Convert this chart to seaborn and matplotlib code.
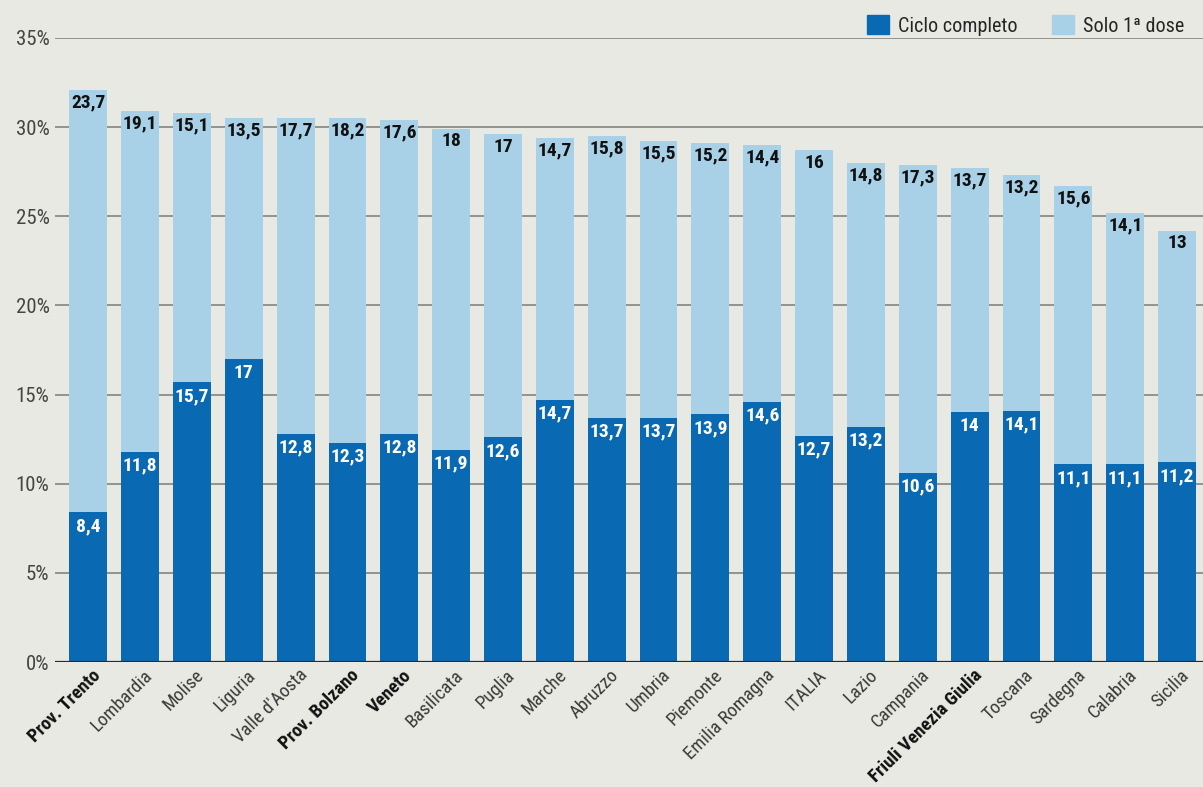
import matplotlib
matplotlib.use("Agg")
import matplotlib.pyplot as plt
import matplotlib.transforms as mtransforms
import seaborn as sns
import pandas as pd
import matplotlib.patches as mpatches
from matplotlib import font_manager

regions = ["Prov. Trento", "Lombardia", "Molise", "Liguria", "Valle d'Aosta",
           "Prov. Bolzano", "Veneto", "Basilicata", "Puglia", "Marche", "Abruzzo",
           "Umbria", "Piemonte", "Emilia Romagna", "ITALIA", "Lazio", "Campania",
           "Friuli Venezia Giulia", "Toscana", "Sardegna", "Calabria", "Sicilia"]
ciclo_completo = [8.4, 11.8, 15.7, 17, 12.8, 12.3, 12.8, 11.9, 12.6, 14.7, 13.7,
                  13.7, 13.9, 14.6, 12.7, 13.2, 10.6, 14, 14.1, 11.1, 11.1, 11.2]
solo_prima_dose = [23.7, 19.1, 15.1, 13.5, 17.7, 18.2, 17.6, 18, 17, 14.7, 15.8,
                   15.5, 15.2, 14.4, 16, 14.8, 17.3, 13.7, 13.2, 15.6, 14.1, 13]
bold_regions = ["Prov. Trento", "Prov. Bolzano", "Veneto", "Friuli Venezia Giulia"]
y_ticks = [0, 5, 10, 15, 20, 25, 30, 35]
legend_labels = ["Ciclo completo", "Solo 1ª dose"]

DARK = "#0a69b3"
LIGHT = "#a8d0e7"
BG = "#e9e9e3"

sns.set_theme(style="white")
avail = {f.name for f in font_manager.fontManager.ttflist}
fam = [f for f in ["Roboto Condensed", "Liberation Sans Narrow", "Roboto"] if f in avail] + ["DejaVu Sans"]
plt.rcParams["font.family"] = fam

df = pd.DataFrame({"regione": regions, "ciclo": ciclo_completo, "solo": solo_prima_dose})
df["totale"] = df["ciclo"] + df["solo"]

fig = plt.figure(figsize=(12.03, 7.87), dpi=100, facecolor=BG)
ax = fig.add_axes([55 / 1203, (787 - 662) / 787, 1 - 55 / 1203, (662 - 38) / 787])
ax.set_facecolor(BG)

sns.barplot(data=df, x="regione", y="totale", color=LIGHT, width=0.73,
            saturation=1, ax=ax, zorder=3, linewidth=0, edgecolor="none")
sns.barplot(data=df, x="regione", y="ciclo", color=DARK, width=0.73,
            saturation=1, ax=ax, zorder=4, linewidth=0, edgecolor="none")

ax.set_ylim(0, 35)
ax.set_xlim(-0.64, 21.5)
ax.set_yticks(y_ticks)
ax.set_yticklabels([f"{t}%" for t in y_ticks], fontsize=15, color="#454545")
for t in y_ticks:
    if t == 0:
        ax.axhline(t, color="#2a2a2a", lw=1.6, zorder=5)
    else:
        ax.axhline(t, color="#8d8d88", lw=1.3, zorder=1)
ax.tick_params(axis="y", length=0, pad=4)
ax.tick_params(axis="x", length=0, pad=3)
for s in ax.spines.values():
    s.set_visible(False)
ax.set_xlabel("")
ax.set_ylabel("")


def fmt(v):
    if float(v).is_integer():
        return f"{int(v)}"
    return f"{v:.1f}".replace(".", ",")


for i, (c, s, tot) in enumerate(zip(df["ciclo"], df["solo"], df["totale"])):
    ax.annotate(fmt(s), (i, tot), xytext=(0, -2.5), textcoords="offset points",
                ha="center", va="top", fontsize=14, fontweight="bold",
                color="#111111", zorder=6)
    ax.annotate(fmt(c), (i, c), xytext=(0, -3.5), textcoords="offset points",
                ha="center", va="top", fontsize=14, fontweight="bold",
                color="white", zorder=6)

ax.set_xticks(range(len(regions)))
ax.set_xticklabels(regions, rotation=45, ha="right", va="top",
                   rotation_mode="anchor", fontsize=13.5, color="#3a3a3a")
shift = mtransforms.ScaledTranslation(3 / 100, 0, fig.dpi_scale_trans)
for lbl in ax.get_xticklabels():
    lbl.set_transform(lbl.get_transform() + shift)
    if lbl.get_text() in bold_regions:
        lbl.set_fontweight("bold")
        lbl.set_color("#111111")

handles = [mpatches.Patch(color=DARK, label=legend_labels[0]),
           mpatches.Patch(color=LIGHT, label=legend_labels[1])]
fig.legend(handles=handles, loc="upper right", bbox_to_anchor=(0.997, 1.0),
           ncol=2, frameon=False, fontsize=14.5, handlelength=1.1, handleheight=1.1,
           handletextpad=0.45, columnspacing=1.7, borderaxespad=0.35)

fig.savefig("out.png", dpi=100, facecolor=BG)
